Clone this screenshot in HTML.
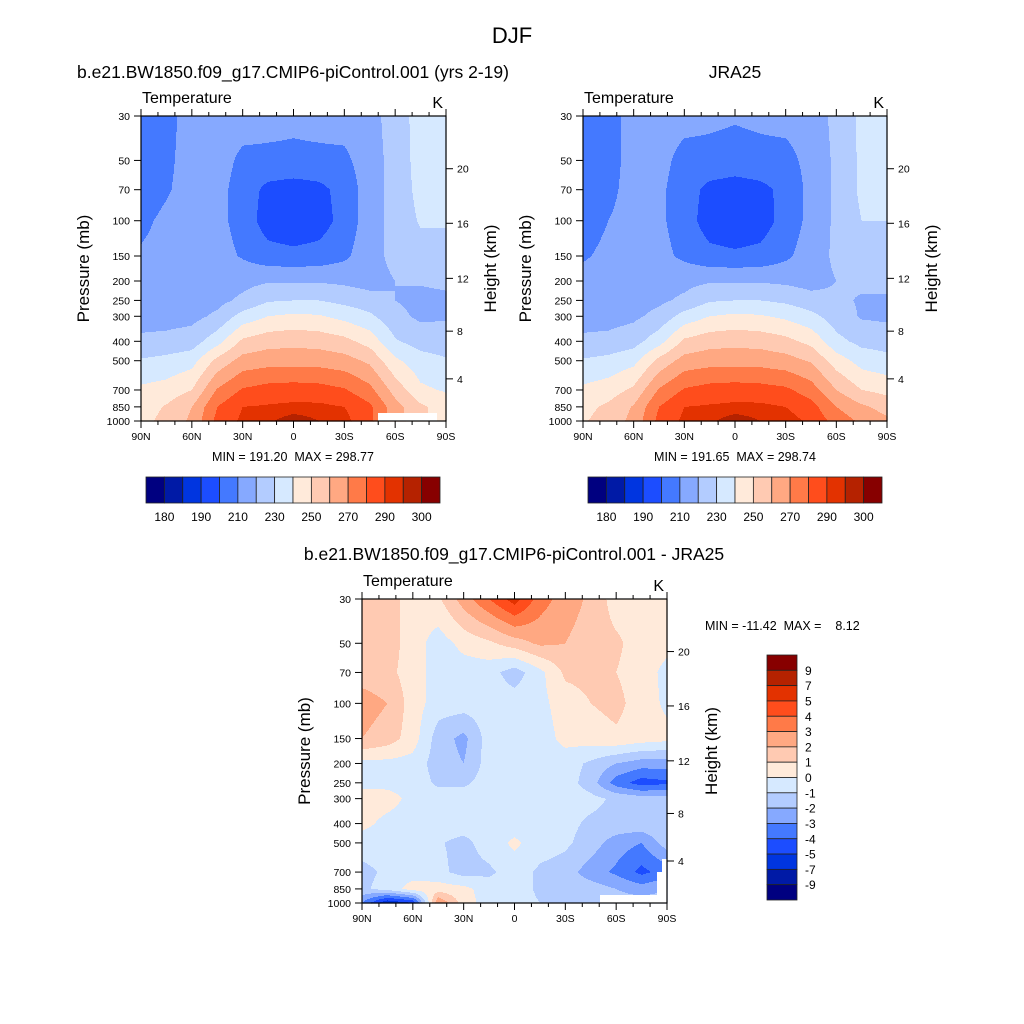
<!DOCTYPE html>
<html><head><meta charset="utf-8"><style>
html,body{margin:0;padding:0;background:#fff;}
svg{display:block;font-family:"Liberation Sans",Arial,sans-serif;}
text{white-space:pre;}
</style></head><body>
<svg id="chart" width="1024" height="1024" viewBox="0 0 1024 1024" xmlns="http://www.w3.org/2000/svg">
<rect width="1024" height="1024" fill="#fff"/>
<text x="512" y="43" font-size="22" text-anchor="middle">DJF</text>
</svg>
<script>
// ---- data ----
const lats = [90,75,60,45,30,15,0,-15,-30,-45,-60,-75,-90];
const pres = [30,50,70,100,150,200,250,300,400,500,700,850,1000];
const tempLevels = [180,185,190,200,210,220,230,240,250,260,270,280,290,295,300];
const tempLabels = ["180","190","210","230","250","270","290","300"];
const diffLevels = [-9,-7,-5,-4,-3,-2,-1,0,1,2,3,4,5,7,9];
const diffLabels = ["9","7","5","4","3","2","1","0","-1","-2","-3","-4","-5","-7","-9"];
const latTickLabels = ["90N","60N","30N","0","30S","60S","90S"];
const presTickLabels = [30,50,70,100,150,200,250,300,400,500,700,850,1000];
const kmTickLabels = [4,8,12,16,20];
const kmTickPres = [616,356,194,103,55];
const colors = ["#000080","#001aa6","#0035e0","#1c4dff","#4479ff","#86a9ff","#b3ccff","#d6e9ff","#ffeada","#ffcab2","#ffa882","#ff7a48","#ff4d1c","#e33200","#b52200","#870000"];

const modelT = [
[205,207,214,215,214,213,212,213,214,216,225,234,236],
[204,208,214,214,208,208,208,208,208,215,224,234,236],
[205,209,214,213,206,197,195,197,204,215,224,233,235],
[208,212,214,213,206,195,192,195,204,215,224,231,231],
[211,213,214,214,209,204,203,204,208,216,223,226,226],
[213,214,215,216,217,219,219,219,218,216,220,221,222],
[214,215,216,217,222,229,230,230,227,224,220,217,218],
[216,216,217,222,234,240,242,241,237,232,223,218,219],
[222,223,225,236,252,256,257,256,253,246,231,226,225],
[231,233,236,253,264,266,266,266,264,258,242,234,231],
[242,244,250,271,281,284,285,284,281,273,256,242,239],
[245,251,260,280,290,291,292,292,290,282,264,252,245],
[247,253,262,283,292,294,298,295,293,282,265,252,246]];
const jraT = [
[205,207,213,214,213,212,211,212,213,214,223,232,235],
[204,207,213,213,207,207,206,207,207,213,222,232,235],
[204,208,213,212,205,197,195,197,203,213,222,232,234],
[206,210,213,212,205,195,192,195,204,213,222,230,230],
[209,212,213,213,208,203,202,203,208,215,222,226,226],
[213,214,215,216,217,219,219,219,218,216,220,222,222],
[214,215,216,218,222,229,230,230,228,224,222,219,219],
[216,216,218,223,234,240,242,241,238,233,225,219,218],
[222,223,226,236,252,256,257,256,253,247,233,227,226],
[231,233,237,253,264,266,266,266,264,259,245,236,233],
[242,245,252,271,281,284,285,284,282,275,260,250,247],
[247,252,261,280,290,291,292,292,290,284,270,262,256],
[249,254,263,283,292,294,298,295,294,288,276,268,262]];
const diffT = [
[1.5,1.5,0.5,0.8,2.5,4,5.5,3.5,2.5,1.8,0.5,0.5,0.5],
[1.5,1.5,0.5,-0.5,0.3,0.8,1.5,2.2,2.0,1.5,1.2,0.5,0.3],
[1.5,1.3,0.5,-0.5,-0.5,-0.6,-1.5,-0.3,1.2,1.3,1.0,0.5,-0.3],
[2.5,2.0,0.5,-0.5,-0.5,-0.5,-0.5,-0.3,0.5,1.0,1.3,0.5,-0.2],
[2.0,1.5,0.5,-1.5,-2.3,-0.5,-0.5,-0.5,0.3,0.5,0.8,0.5,0.3],
[-0.3,-0.3,-0.4,-1.5,-2.0,-0.5,-0.5,-0.5,-0.5,-1.2,-2.0,-2.5,-2.5],
[-0.3,-0.3,-0.4,-1.2,-1.2,-0.5,-0.5,-0.5,-0.5,-1.5,-3.5,-4.5,-4.2],
[0.5,0.4,-0.3,-0.5,-0.5,-0.5,-0.5,-0.5,-0.5,-0.7,-1.2,-1.5,-1.5],
[0.3,-0.3,-0.5,-0.5,-0.5,-0.5,-0.5,-0.5,-0.7,-1.2,-1.3,-1.3,-1.0],
[-0.5,-0.5,-0.6,-0.9,-1.3,-0.5,0.2,-0.5,-0.8,-1.5,-2.5,-3.0,-1.5],
[-1.3,-0.8,-0.5,-0.7,-1.4,-1.2,-0.5,-1.2,-1.5,-2.5,-3.2,-4.3,-3.5],
[-1.2,-0.6,0.5,0.5,0.3,-0.5,-0.5,-1.2,-1.5,-1.5,-2.0,-2.5,-2.0],
[-3,-6,-5,3,0.5,-0.5,-0.5,-1,-1,-1.5,-1.5,-1.5,-1.5]];

// ---- drawing ----
const NS = "http://www.w3.org/2000/svg";
const svg = document.getElementById("chart");
function mk(tag, attrs, parent){
  const e = document.createElementNS(NS, tag);
  for (const k in attrs) e.setAttribute(k, attrs[k]);
  (parent||svg).appendChild(e);
  return e;
}
function txt(x,y,s,size,anchor,parent,name,extra){
  const t = mk("text",Object.assign({x:x,y:y,"font-size":size,"text-anchor":anchor||"start"},extra||{}),parent);
  t.textContent = s;
  
  
  return t;
}
function levelIndex(v, levels){ let i=0; while(i<levels.length && v>=levels[i]) i++; return i; }

function drawPanel(o){
  const g = mk("g",{});
  
  
  const {x0,y0,w,h} = o;
  const L0 = Math.log(30), LR = Math.log(1000/30);
  const xOfLat = lat => x0 + (90-lat)/180*w;
  const yOfP = p => y0 + (Math.log(p)-L0)/LR*h;
  const field = mk("g",{},g);
  
  
  const lpres = pres.map(p=>Math.log(p));
  const nl = lats.length;
  function val(px,py){
    const lat = 90 - (px-x0)/w*180;
    let fi = (lats[0]-lat)/(lats[0]-lats[nl-1])*(nl-1);
    fi = Math.max(0,Math.min(nl-1.0001,fi));
    const i = Math.floor(fi), u = fi-i;
    const lp = L0 + (py-y0)/h*LR;
    let j=0; while(j<pres.length-2 && lp>lpres[j+1]) j++;
    let v = (lp-lpres[j])/(lpres[j+1]-lpres[j]); v=Math.max(0,Math.min(1,v));
    const d=o.data;
    const a = d[j][i]*(1-u)+d[j][i+1]*u;
    const b = d[j+1][i]*(1-u)+d[j+1][i+1]*u;
    return a*(1-v)+b*v;
  }
  for(let r=0;r<h;r++){
    const py=y0+r+0.5;
    let start=0, cur=-1;
    for(let c=0;c<=w;c++){
      const ci = c<w ? levelIndex(val(x0+c+0.5,py),o.levels) : -2;
      if(ci!==cur){
        if(cur>=0){
          const rc = mk("rect",{x:x0+start,y:y0+r,width:c-start+0.6,height:1.6,fill:colors[cur]},field);
          
          
        }
        start=c; cur=ci;
      }
    }
  }
  (o.mask||[]).forEach(m=>{
    const mr = mk("rect",{x:m[0],y:m[1],width:m[2],height:m[3],fill:"#fff"},g);
    
    
  });
  const fr = mk("rect",{x:x0,y:y0,width:w,height:h,fill:"none",stroke:"#000","stroke-width":1.2},g);
  
  
  for(let lat=90;lat>=-90;lat-=10){
    const x=xOfLat(lat), major = lat%30===0, len = major?7:4;
    mk("line",{x1:x,y1:y0+h,x2:x,y2:y0+h+len,stroke:"#000","stroke-width":1},g);
    mk("line",{x1:x,y1:y0,x2:x,y2:y0-len,stroke:"#000","stroke-width":1},g);
  }
  latTickLabels.forEach((s,k)=>{ txt(xOfLat(90-30*k), y0+h+19, s, 10.5, "middle", g, 'x-tick-label'); });
  presTickLabels.forEach(p=>{
    const y=yOfP(p);
    mk("line",{x1:x0,y1:y,x2:x0-7,y2:y,stroke:"#000","stroke-width":1},g);
    txt(x0-11, y+4, String(p), 10.5, "end", g, 'pressure-tick-label');
  });
  kmTickLabels.forEach((km,k)=>{
    const y=yOfP(kmTickPres[k]);
    mk("line",{x1:x0+w,y1:y,x2:x0+w+7,y2:y,stroke:"#000","stroke-width":1},g);
    txt(x0+w+11, y+4, String(km), 10.5, "start", g, 'height-tick-label');
  });
  txt(x0+1, y0-13, "Temperature", 16, "start", g, 'left-string');
  txt(x0+w-3, y0-8, "K", 16, "end", g, 'units-string');
  txt(x0-52, y0+h/2, "Pressure (mb)", 17, "middle", g, 'y-axis-title', {transform:`rotate(-90 ${x0-52} ${y0+h/2})`});
  txt(x0+w+50, y0+h/2, "Height (km)", 17, "middle", g, 'right-axis-title', {transform:`rotate(-90 ${x0+w+50} ${y0+h/2})`});
  txt(o.titleX, o.titleY, o.title, 17.5, "middle", g, 'panel-title');
  if(o.minmax) txt(o.minmax[0], o.minmax[1], o.minmax[2], 12.5, o.minmax[3]||"middle", g, 'min-max-label');
}

function hColorbar(x0,y0,w,h,name){
  const g = mk("g",{});
  
  
  const n=colors.length, bw=w/n;
  colors.forEach((c,k)=>{
    const r = mk("rect",{x:x0+k*bw,y:y0,width:bw,height:h,fill:c,stroke:"#222","stroke-width":0.8},g);
    
    
  });
  tempLabels.forEach((s,k)=>{ txt(x0+(1+2*k)*bw, y0+h+18, s, 12, "middle", g, 'colorbar-label'); });
}
function vColorbar(x0,y0,w,h,name){
  const g = mk("g",{});
  
  
  const n=colors.length, bh=h/n;
  colors.slice().reverse().forEach((c,k)=>{
    const r = mk("rect",{x:x0,y:y0+k*bh,width:w,height:bh,fill:c,stroke:"#222","stroke-width":0.8},g);
    
    
  });
  diffLabels.forEach((s,k)=>{ txt(x0+w+8, y0+(k+1)*bh+4.5, s, 12, "start", g, 'colorbar-label'); });
}

drawPanel({name:"model-panel",x0:141,y0:116,w:305,h:305,data:modelT,levels:tempLevels,
  title:"b.e21.BW1850.f09_g17.CMIP6-piControl.001 (yrs 2-19)",titleX:293,titleY:78,
  minmax:[293,461,"MIN = 191.20\u00a0\u00a0MAX = 298.77"],mask:[[378,413,59,8]]});
drawPanel({name:"jra25-panel",x0:583,y0:116,w:304,h:305,data:jraT,levels:tempLevels,
  title:"JRA25",titleX:735,titleY:78,minmax:[735,461,"MIN = 191.65\u00a0\u00a0MAX = 298.74"]});
drawPanel({name:"difference-panel",x0:362,y0:599,w:305,h:304,data:diffT,levels:diffLevels,
  title:"b.e21.BW1850.f09_g17.CMIP6-piControl.001 - JRA25",titleX:514,titleY:560,
  minmax:[705,630,"MIN = -11.42\u00a0\u00a0MAX =\u00a0\u00a0\u00a0 8.12","start"],
  mask:[[600,895,67,8],[657,872,10,24],[662,859,5,14]]});
hColorbar(146,477,294,26,"model-colorbar");
hColorbar(588,477,294,26,"jra25-colorbar");
vColorbar(767,655,30,245,"difference-colorbar");
</script>
</body></html>
